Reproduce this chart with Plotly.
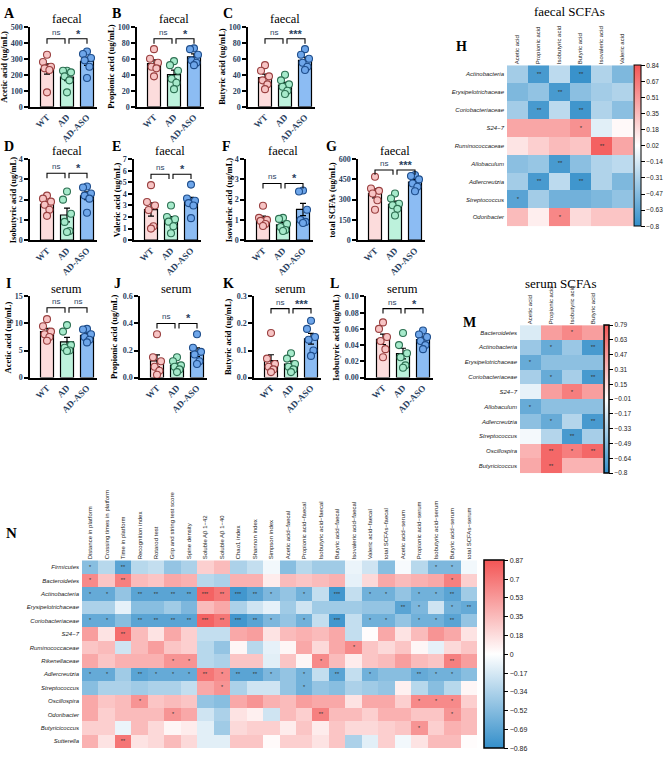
import numpy as np
import plotly.graph_objects as go

W, H = 669, 757

# ---------------- data ----------------
groups = ["WT", "AD", "AD-ASO"]

# individual animals (ug/mL), order: WT, AD, AD-ASO
acetic_faecal = [[325, 280, 250, 240, 230, 90], [225, 225, 215, 190, 165, 90], [345, 330, 305, 290, 250, 180]]
propionic_faecal = [[72, 60, 55, 50, 48, 38], [57, 52, 45, 35, 30, 22], [73, 72, 65, 58, 55, 52]]
butyric_faecal = [[52, 45, 38, 33, 28, 22], [40, 33, 28, 25, 20, 16], [72, 65, 60, 55, 50, 46]]
isobutyric_faecal = [[2.2, 2.05, 1.9, 1.75, 1.5, 1.2], [2.4, 2.0, 1.3, 0.9, 0.45, 0.4], [2.65, 2.6, 2.3, 2.2, 2.05, 1.35]]
valeric_faecal = [[4.75, 3.3, 3.0, 2.6, 1.2, 1.0], [3.0, 2.0, 1.8, 1.6, 1.2, 0.6], [4.8, 3.6, 3.4, 3.2, 3.0, 1.9]]
isovaleric_faecal = [[1.7, 1.1, 1.0, 0.95, 0.8, 0.7], [1.1, 1.05, 0.8, 0.65, 0.5, 0.45], [2.45, 2.4, 1.5, 1.0, 0.9, 0.85]]
total_faecal = [[470, 382, 365, 345, 295, 225], [345, 308, 270, 258, 232, 183], [482, 475, 450, 420, 395, 362]]
acetic_serum = [[10.8, 9.5, 8.5, 8.0, 7.5, 6.8], [9.7, 8.5, 6.0, 5.5, 5.0, 4.9], [9.0, 8.9, 8.0, 7.5, 7.0, 6.5]]
propionic_serum = [[0.32, 0.15, 0.12, 0.08, 0.05, 0.02], [0.15, 0.12, 0.09, 0.08, 0.06, 0.04], [0.32, 0.22, 0.19, 0.17, 0.12, 0.10]]
butyric_serum = [[0.165, 0.07, 0.05, 0.04, 0.03, 0.02], [0.09, 0.07, 0.05, 0.04, 0.03, 0.02], [0.21, 0.18, 0.15, 0.14, 0.10, 0.08]]
isobutyric_serum = [[0.068, 0.06, 0.05, 0.045, 0.035, 0.025], [0.055, 0.04, 0.03, 0.025, 0.015, 0.012], [0.058, 0.053, 0.05, 0.045, 0.04, 0.035]]

# y ticks per panel
ticks_A = [0, 100, 200, 300, 400, 500]
ticks_B = [0, 20, 40, 60, 80, 100]
ticks_C = [0, 20, 40, 60, 80, 100]
ticks_D = [0, 1, 2, 3, 4]
ticks_E = [0, 1, 2, 3, 4, 5, 6, 7]
ticks_F = [0, 1, 2, 3, 4]
ticks_G = [0, 150, 300, 450, 600]
ticks_I = [0, 5, 10, 15]
ticks_J = [0.0, 0.2, 0.4, 0.6]
ticks_K = [0.0, 0.1, 0.2, 0.3]
ticks_L = [0.00, 0.02, 0.04, 0.06, 0.08, 0.10]
ticklab_J = ["0.0", "0.2", "0.4", "0.6"]
ticklab_K = ["0.0", "0.1", "0.2", "0.3"]
ticklab_L = ["0.00", "0.02", "0.04", "0.06", "0.08", "0.10"]

# significance (WT vs AD, AD vs AD-ASO) and bracket level
sig_A, brk_A = ["ns", "*"], 425
sig_B, brk_B = ["ns", "*"], 85
sig_C, brk_C = ["ns", "***"], 85
sig_D, brk_D = ["ns", "*"], 3.3
sig_E, brk_E = ["ns", "*"], 5.7
sig_F, brk_F = ["ns", "*"], 2.8
sig_G, brk_G = ["ns", "***"], 520
sig_I, brk_I = ["ns", "ns"], 12.9
sig_J, brk_J = ["ns", "*"], 0.40
sig_K, brk_K = ["ns", "***"], 0.255
sig_L, brk_L = ["ns", "*"], 0.085

# ---- heatmap H : faecal SCFAs ----
H_cols = ["Acetic acid", "Propionic acid", "Isobutyric acid", "Butyric acid", "Isovaleric acid", "Valeric acid"]
H_rows = ["Actinobacteria", "Erysipelotrichaceae", "Coriobacteriaceae", "S24−7", "Ruminococcaceae",
          "Allobaculum", "Adlercreutzia", "Streptococcus", "Odoribacter"]
H_r = [
    [-0.35, -0.72, -0.25, -0.78, -0.30, -0.50],
    [-0.50, -0.42, -0.72, -0.45, -0.35, -0.30],
    [-0.35, -0.72, -0.25, -0.75, -0.30, -0.45],
    [0.45, 0.45, 0.45, 0.55, -0.10, 0.05],
    [0.15, 0.25, 0.35, 0.30, 0.78, 0.45],
    [-0.45, -0.40, -0.72, -0.45, -0.30, -0.25],
    [-0.35, -0.72, -0.25, -0.75, -0.30, -0.50],
    [-0.65, -0.35, -0.55, -0.55, -0.50, -0.42],
    [0.35, 0.10, 0.60, 0.20, 0.30, 0.30],
]
H_sig = [
    "- ** - ** - -", "- - ** - - -", "- ** - ** - -", "- - - * - -", "- - - - ** -",
    "- - ** - - -", "- ** - ** - -", "* - - - - -", "- - * - - -",
]
H_cbtext = ["−0.8", "−0.63", "−0.47", "−0.31", "−0.14", "0.02", "0.18", "0.35", "0.51", "0.67", "0.84"]

# ---- heatmap M : serum SCFAs ----
M_cols = ["Acetic acid", "Propionic acid", "Isobutyric acid", "Butyric acid"]
M_rows = ["Bacteroidetes", "Actinobacteria", "Erysipelotrichaceae", "Coriobacteriaceae", "S24−7",
          "Allobaculum", "Adlercreutzia", "Streptococcus", "Oscillospira", "Butyricicoccus"]
M_r = [
    [-0.15, 0.45, 0.55, 0.45],
    [-0.40, -0.60, -0.40, -0.72],
    [-0.60, -0.45, -0.45, -0.45],
    [-0.35, -0.60, -0.35, -0.72],
    [-0.10, 0.45, 0.60, 0.45],
    [-0.60, -0.45, -0.45, -0.45],
    [-0.45, -0.60, -0.30, -0.72],
    [-0.05, -0.30, -0.72, -0.35],
    [0.35, 0.70, 0.60, 0.70],
    [0.40, 0.70, 0.35, 0.35],
]
M_sig = ["- - * -", "- * - **", "* - - -", "- * - **", "- - * -",
         "* - - -", "- * - **", "- - ** -", "- ** * **", "- ** - -"]
M_cbtext = ["−0.8", "−0.64", "−0.49", "−0.33", "−0.17", "−0.01", "0.15", "0.31", "0.47", "0.63", "0.79"]

# ---- heatmap N : all phenotypes ----
N_cols = ["Distance in platform", "Crossing times in platform", "Time in platform", "Recognition index",
          "Rotarod test", "Grip and string test score", "Spine density", "Soluble Aβ 1−42", "Soluble Aβ 1−40",
          "Chao1 index", "Shannon index", "Simpson index", "Acetic acid−faecal", "Propionic acid−faecal",
          "Isobutyric acid−faecal", "Butyric acid−faecal", "Isovaleric acid−faecal", "Valeric acid−faecal",
          "total SCFAs−faecal", "Acetic acid−serum", "Propionic acid−serum", "Isobutyric acid−serum",
          "Butyric acid−serum", "total SCFAs−serum"]
N_rows = ["Firmicutes", "Bacteroidetes", "Actinobacteria", "Erysipelotrichaceae", "Coriobacteriaceae",
          "S24−7", "Ruminococcaceae", "Rikenellaceae", "Adlercreutzia", "Streptococcus", "Oscillospira",
          "Odoribacter", "Butyricicoccus", "Sutterella"]
N_r = [
    [-0.5, -0.3, -0.7, -0.3, -0.25, -0.45, -0.35, 0.25, 0.35, -0.35, -0.25, -0.05, -0.5, -0.3, -0.4, -0.4, -0.08, -0.2, -0.5, -0.03, -0.3, -0.55, -0.55, -0.05],
    [0.6, 0.3, 0.65, 0.35, 0.3, 0.45, 0.4, -0.3, -0.35, 0.4, 0.4, 0.1, 0.35, 0.3, 0.35, 0.4, -0.1, 0.2, 0.45, 0.35, 0.4, 0.45, 0.65, 0.25],
    [-0.65, -0.65, -0.45, -0.7, -0.7, -0.7, -0.7, 0.8, 0.7, -0.8, -0.7, -0.55, -0.45, -0.6, -0.25, -0.8, -0.25, -0.6, -0.6, -0.45, -0.6, -0.6, -0.7, -0.4],
    [-0.35, -0.35, -0.1, -0.5, -0.5, -0.4, -0.55, 0.35, 0.45, -0.35, -0.2, -0.1, -0.4, -0.2, -0.4, -0.4, -0.4, -0.45, -0.45, -0.7, -0.55, -0.2, -0.6, -0.65],
    [-0.65, -0.65, -0.5, -0.7, -0.7, -0.7, -0.7, 0.8, 0.7, -0.8, -0.7, -0.55, -0.45, -0.6, -0.25, -0.8, -0.25, -0.6, -0.6, -0.45, -0.6, -0.6, -0.7, -0.45],
    [0.5, 0.15, 0.75, 0.35, 0.15, 0.45, 0.25, -0.25, -0.25, 0.45, 0.5, 0.15, 0.35, 0.4, 0.35, 0.45, -0.25, 0.02, 0.45, 0.15, 0.35, 0.55, 0.45, 0.15],
    [0.3, 0.35, -0.2, 0.35, 0.5, 0.3, 0.25, -0.3, -0.45, 0.05, -0.3, -0.1, 0.05, 0.45, 0.2, 0.45, 0.6, 0.3, 0.2, 0.3, 0.05, -0.1, 0.2, 0.3],
    [0.45, 0.3, 0.4, 0.4, 0.4, 0.55, 0.55, -0.3, -0.35, 0.3, 0.3, -0.12, 0.3, 0.05, 0.6, 0.35, 0.1, 0.3, 0.35, 0.5, 0.35, 0.3, 0.65, 0.5],
    [-0.65, -0.65, -0.4, -0.7, -0.65, -0.65, -0.65, 0.7, 0.6, -0.7, -0.7, -0.55, -0.45, -0.6, -0.25, -0.7, -0.25, -0.6, -0.5, -0.5, -0.65, -0.6, -0.6, -0.5],
    [-0.5, -0.35, -0.35, -0.4, -0.35, -0.35, -0.25, 0.45, 0.55, -0.35, -0.2, -0.2, -0.45, -0.6, -0.45, -0.5, -0.35, -0.4, -0.45, 0.08, -0.3, -0.5, -0.3, 0.05],
    [0.45, 0.3, 0.35, 0.55, 0.3, 0.35, 0.3, -0.45, -0.5, 0.45, 0.55, 0.4, 0.35, 0.5, 0.45, 0.45, 0.15, 0.45, 0.45, 0.25, 0.6, 0.6, 0.6, 0.25],
    [0.45, 0.25, 0.35, 0.35, 0.35, 0.55, 0.45, -0.2, -0.35, 0.15, 0.08, -0.2, 0.35, 0.25, 0.65, 0.35, 0.35, 0.25, 0.4, 0.4, 0.3, 0.3, 0.55, 0.35],
    [0.25, 0.25, -0.08, 0.35, 0.2, 0.05, 0.1, -0.12, -0.4, 0.2, 0.25, 0.25, 0.1, 0.3, 0.1, 0.3, 0.2, 0.2, 0.25, 0.3, 0.55, 0.25, 0.4, 0.35],
    [0.4, 0.15, 0.7, 0.15, 0.2, 0.35, 0.2, -0.12, -0.12, 0.3, 0.3, 0.03, 0.25, 0.25, 0.15, 0.3, -0.35, -0.12, 0.25, -0.05, 0.15, 0.35, 0.35, 0.02],
]
N_sig = [
    "* - ** - - - - - - - - - - - - - - - - - - * * -",
    "* - ** - - - - - - - - - - - - - - - - - - - * -",
    "* * - ** ** ** ** *** ** *** ** * - * - *** - * * - * * ** -",
    "- - - - - - - - - - - - - - - - - - - ** * - * **",
    "* * - ** ** ** ** *** ** *** ** * - * - *** - * * - * * ** -",
    "- - ** - - - - - - - - - - - - - - - - - - - - -",
    "- - - - - - - - - - - - - - - - * - - - - - - -",
    "- - - - - * * - - - - - - - * - - - - - - - ** -",
    "* * - ** * * * ** * ** ** * - * - ** - * - - ** * * -",
    "- - - - - - - - * - - - - * - - - - - - - - - -",
    "- - - * - - - - - - - - - - - - - - - - * * * -",
    "- - - - - * - - - - - - - - ** - - - - - - - * -",
    "- - - - - - - - - - - - - - - - - - - - * - - -",
    "- - ** - - - - - - - - - - - - - - - - - - - - -",
]
N_cbtext = ["−0.86", "−0.69", "−0.52", "−0.34", "−0.17", "0", "0.18", "0.35", "0.53", "0.7", "0.87"]

# ---------------- styles ----------------
SERIF = "Liberation Serif"
SANS = "Liberation Sans"
bar_fill = ["#fcdcdc", "#bdf2dc", "#8cbcf3"]
pt_fill = ["#f7c4c4", "#a6eacb", "#6ea6ea"]
pt_edge = ["#9a4040", "#2e7153", "#1f4e8c"]
jitter = [0.0, -0.2, 0.2, -0.12, 0.12, 0.0]
heat_cs = [[0.0, "rgb(52,143,202)"], [0.5, "rgb(255,255,255)"], [1.0, "rgb(243,85,85)"]]

fig = go.Figure()
layout = dict(width=W, height=H, margin=dict(l=0, r=0, t=0, b=0),
              paper_bgcolor="white", plot_bgcolor="white", showlegend=False)
annotations = []
state = {"n": 0}


def new_axes(x0, x1, y0, y1):
    state["n"] += 1
    s = "" if state["n"] == 1 else str(state["n"])
    layout["xaxis" + s] = dict(domain=[x0 / W, x1 / W], anchor="y" + s)
    layout["yaxis" + s] = dict(domain=[1 - y1 / H, 1 - y0 / H], anchor="x" + s)
    return "x" + s, "y" + s, "xaxis" + s, "yaxis" + s


def text(x, y, s, size, family=SERIF, weight="normal", xanchor="center", yanchor="middle", angle=0, color="black"):
    annotations.append(dict(x=x / W, y=1 - y / H, xref="paper", yref="paper", text=s, showarrow=False,
                            xanchor=xanchor, yanchor=yanchor, textangle=angle,
                            font=dict(family=family, size=size, weight=weight, color=color)))


def bar_panel(data, ticks, ticklab, ytitle, title, letter, sig, brk, ax, top, bot, lx):
    ymax = ticks[-1]
    pw, ph = 67, bot - top
    xr, yr, xa, ya = new_axes(ax, ax + pw, top, bot)
    means = [float(np.mean(d)) for d in data]
    sems = [float(np.std(d, ddof=1) / np.sqrt(len(d))) for d in data]
    fig.add_trace(go.Bar(x=[0, 1, 2], y=means, width=0.65,
                         marker=dict(color=bar_fill, line=dict(color="black", width=1.2)),
                         error_y=dict(type="data", array=sems, color="black", thickness=1.2, width=3),
                         xaxis=xr, yaxis=yr, hoverinfo="skip"))
    for g in range(3):
        fig.add_trace(go.Scatter(x=[g + o for o in jitter], y=data[g], mode="markers",
                                 marker=dict(size=7, color=pt_fill[g], line=dict(color=pt_edge[g], width=1.1)),
                                 cliponaxis=False, xaxis=xr, yaxis=yr, hoverinfo="skip"))
    d = 5.0 / ph * ymax
    for (a, b), lab in zip([(0, 0.9), (1.1, 2)], sig):
        fig.add_trace(go.Scatter(x=[a, a, b, b], y=[brk - d, brk, brk, brk - d], mode="lines",
                                 line=dict(color="black", width=1.1), cliponaxis=False,
                                 xaxis=xr, yaxis=yr, hoverinfo="skip"))
        if lab == "ns":
            annotations.append(dict(x=(a + b) / 2, y=brk, xref=xr, yref=yr, text="ns", showarrow=False,
                                    yanchor="bottom", yshift=0, font=dict(family=SANS, size=8)))
        else:
            annotations.append(dict(x=(a + b) / 2, y=brk, xref=xr, yref=yr, text=lab, showarrow=False,
                                    yanchor="bottom", yshift=-3, font=dict(family=SANS, size=11, weight="bold")))
    layout[xa].update(range=[-0.85, 2.5], showline=True, linecolor="black", linewidth=1.5,
                      tickvals=[0, 1, 2], ticktext=groups, tickangle=-45, ticks="",
                      tickfont=dict(family=SERIF, size=9, weight="bold"), showgrid=False, zeroline=False)
    layout[ya].update(range=[0, ymax], showline=True, linecolor="black", linewidth=1.5,
                      tickvals=ticks, ticktext=[str(t) for t in ticklab], ticks="outside", ticklen=4, tickwidth=1.5,
                      tickcolor="black", tickfont=dict(family=SERIF, size=8, weight="bold"),
                      showgrid=False, zeroline=False)
    maxlen = max(len(str(t)) for t in ticklab)
    text(ax + pw / 2 + 3, top - 8, title, 12.5)
    text(ax - 13 - 4.3 * maxlen, (top + bot) / 2, ytitle, 8.5, weight="bold", angle=-90)
    text(lx, top - 13, letter, 14, weight="bold")


def heat_panel(z, sig, rows, cols, cbtext, x0, x1, y0, y1, cb_x, cb_th, fs_lab, fs_cb, fs_star, cb_ol):
    xr, yr, xa, ya = new_axes(x0, x1, y0, y1)
    zmin, zmax = float(cbtext[0].replace("−", "-")), float(cbtext[-1].replace("−", "-"))
    txt = [["" if t == "-" else t for t in s.split()] for s in sig]
    fig.add_trace(go.Heatmap(
        z=z, x=list(range(len(cols))), y=list(range(len(rows))), zmin=zmin, zmax=zmax,
        colorscale=heat_cs, text=txt, texttemplate="%{text}",
        textfont=dict(family=SANS, size=fs_star, color="#333"),
        xaxis=xr, yaxis=yr, hoverinfo="skip",
        colorbar=dict(x=cb_x / W, xanchor="left", xpad=0, y=1 - y0 / H, yanchor="top", ypad=0,
                      len=(y1 - y0) / H, lenmode="fraction", thickness=cb_th, thicknessmode="pixels",
                      outlinewidth=cb_ol, outlinecolor="black",
                      tickvals=list(np.linspace(zmin, zmax, len(cbtext))), ticktext=cbtext,
                      ticks="outside", ticklen=4, tickwidth=1, tickcolor="black",
                      tickfont=dict(family=SANS, size=fs_cb, color="#222"))))
    layout[xa].update(range=[-0.5, len(cols) - 0.5], side="top", tickvals=list(range(len(cols))),
                      ticktext=cols, tickangle=-90, ticks="", showline=False, showgrid=False,
                      zeroline=False, tickfont=dict(family=SANS, size=fs_lab, color="#222"))
    layout[ya].update(range=[len(rows) - 0.5, -0.5], tickvals=list(range(len(rows))),
                      ticktext=["<i>" + r + "</i>" for r in rows], ticks="", showline=False,
                      showgrid=False, zeroline=False, ticklabelstandoff=2,
                      tickfont=dict(family=SANS, size=fs_lab, color="#222"))


# ---------------- bar panels ----------------
R1, R2, R3 = (23, 104), (157, 239), (296, 378)
bar_panel(acetic_faecal, ticks_A, ticks_A, "Acetic acid (ug/mL)", "faecal", "A", sig_A, brk_A, 30, *R1, 9)
bar_panel(propionic_faecal, ticks_B, ticks_B, "Propionic acid (ug/mL)", "faecal", "B", sig_B, brk_B, 137, *R1, 116)
bar_panel(butyric_faecal, ticks_C, ticks_C, "Butyric acid (ug/mL)", "faecal", "C", sig_C, brk_C, 248, *R1, 228)
bar_panel(isobutyric_faecal, ticks_D, ticks_D, "Isobutyric acid (ug/mL)", "faecal", "D", sig_D, brk_D, 30, *R2, 9)
bar_panel(valeric_faecal, ticks_E, ticks_E, "Valeric acid (ug/mL)", "faecal", "E", sig_E, brk_E, 134, *R2, 116)
bar_panel(isovaleric_faecal, ticks_F, ticks_F, "Isovaleric acid (ug/mL)", "faecal", "F", sig_F, brk_F, 246, *R2, 226)
bar_panel(total_faecal, ticks_G, ticks_G, "total SCFAs (ug/mL)", "faecal", "G", sig_G, brk_G, 358, *R2, 331)
bar_panel(acetic_serum, ticks_I, ticks_I, "Acetic acid (ug/mL)", "serum", "I", sig_I, brk_I, 30, *R3, 8)
bar_panel(propionic_serum, ticks_J, ticklab_J, "Propionic acid (ug/mL)", "serum", "J", sig_J, brk_J, 140, *R3, 117)
bar_panel(butyric_serum, ticks_K, ticklab_K, "Butyric acid (ug/mL)", "serum", "K", sig_K, brk_K, 254, *R3, 228)
bar_panel(isobutyric_serum, ticks_L, ticklab_L, "Isobutyric acid (ug/mL)", "serum", "L", sig_L, brk_L, 366, *R3, 334)

# ---------------- heatmaps ----------------
heat_panel(H_r, H_sig, H_rows, H_cols, H_cbtext, 507, 633, 62, 225, 634, 7, 6, 6.5, 6, 1)
text(569, 8, "faecal SCFAs", 13)
text(461, 43, "H", 14, weight="bold")

heat_panel(M_r, M_sig, M_rows, M_cols, M_cbtext, 520, 603, 325, 475, 604, 5, 6, 6.5, 6, 1.5)
text(561, 283, "serum SCFAs", 13)
text(469, 322, "M", 14, weight="bold")

heat_panel(N_r, N_sig, N_rows, N_cols, N_cbtext, 82, 477, 563, 753, 484, 20, 6, 7, 5.5, 1.5)
text(11, 535, "N", 15, weight="bold")

layout["annotations"] = annotations
fig.update_layout(**layout)
fig.write_html("out.html")
